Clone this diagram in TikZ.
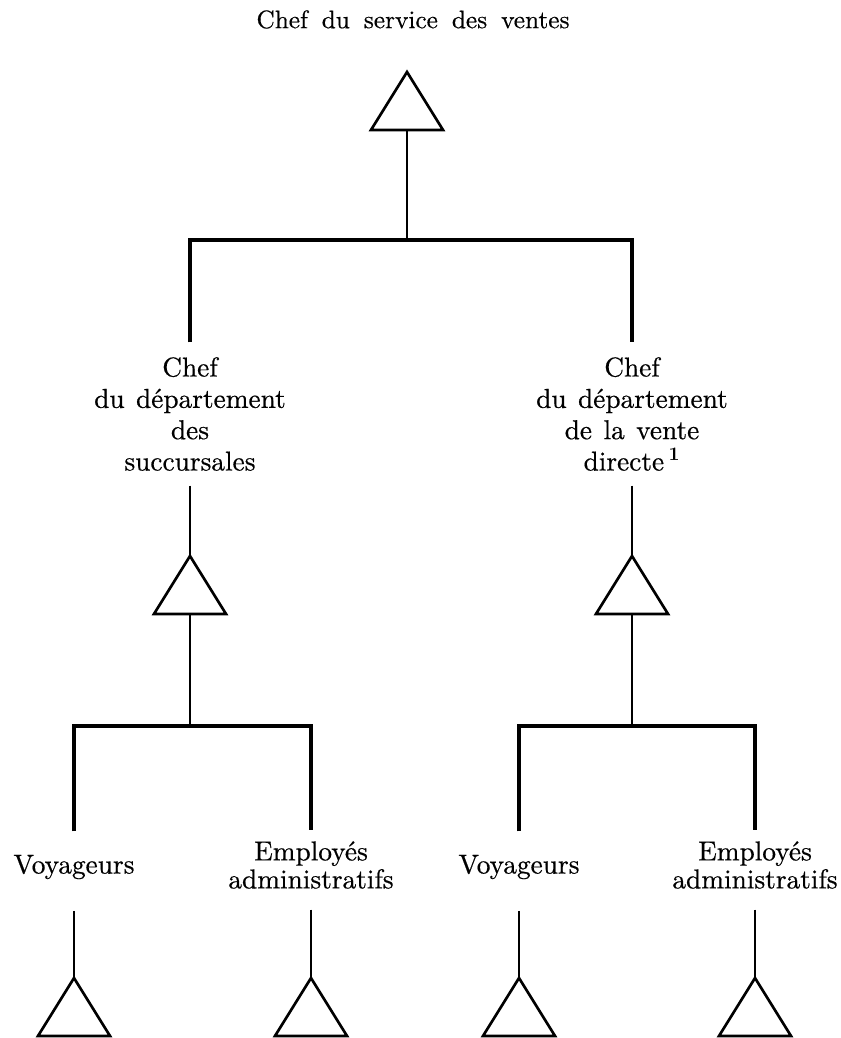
\documentclass[tikz,border=0pt]{standalone}
\usepackage{fontspec}
\setmainfont{lmroman10-regular.otf}[FakeBold=0.5, BoldFont=lmroman10-bold.otf, BoldFeatures={FakeBold=0}]
\usetikzlibrary{shapes.geometric}
\newcommand\widewords[1]{\spaceskip=#1em plus 0.1em\relax}
\begin{document}
\begin{tikzpicture}[x=0.75pt,y=-0.75pt,
  txt/.style={font=\fontsize{20.5}{23.5}\selectfont\widewords{0.42}, inner xsep=2pt},
  titlestyle/.style={font=\fontsize{19}{22}\selectfont\widewords{0.55}, inner sep=0pt},
  dept/.style={txt, align=center, inner ysep=11pt},
  voy/.style={txt, inner ysep=17.5pt},
  emp/.style={txt, align=center, inner ysep=8.5pt, font=\fontsize{20.5}{21}\selectfont\widewords{0.42}},
  tri/.style={draw, line width=2pt, line join=miter, isosceles triangle, shape border rotate=90,
    isosceles triangle apex angle=63.7, minimum size=43.5pt, inner sep=0pt, outer sep=0pt, anchor=apex},
  wire/.style={line width=2pt},
  bar/.style={line width=2.3pt, line join=miter}]
\path[use as bounding box] (0,0) rectangle (841,1038);

% title and top triangle
\node[titlestyle] (title) at (413,19.5) {Chef du service des ventes};
\node[tri] (t0) at (407,72) {};

% department heads
\node[dept] (dL) at (190,414) {Chef\\du département\\des\\succursales};
\node[dept] (dR) at (632,414) {Chef\\du département\\de la vente\\directe\,\textsuperscript{\textbf{1}}};

\coordinate (j0) at (407,240);
\draw[wire] (t0.lower side) -- (j0);
\draw[bar] (dL.north) |- (j0) -| (dR.north);

% department triangles
\node[tri] (t1) at (190,556) {};
\node[tri] (t2) at (632,556) {};
\draw[wire] (dL.south) -- (t1.apex);
\draw[wire] (dR.south) -- (t2.apex);

% staff
\node[voy] (v1) at (74,867) {Voyageurs};
\node[emp] (e1) at (311,865) {Employés\\administratifs};
\node[voy] (v2) at (519,867) {Voyageurs};
\node[emp] (e2) at (755,865) {Employés\\administratifs};

\coordinate (j1) at (190,726);
\coordinate (j2) at (632,726);
\draw[wire] (t1.lower side) -- (j1);
\draw[wire] (t2.lower side) -- (j2);
\draw[bar] (v1.north) |- (j1) -| (e1.north);
\draw[bar] (v2.north) |- (j2) -| (e2.north);

% staff triangles
\node[tri] (t3) at (74,978) {};
\node[tri] (t4) at (311,978) {};
\node[tri] (t5) at (519,978) {};
\node[tri] (t6) at (755,978) {};
\draw[wire, shorten <=6pt] (v1.south) -- (t3.apex);
\draw[wire, shorten <=7pt] (e1.south) -- (t4.apex);
\draw[wire, shorten <=6pt] (v2.south) -- (t5.apex);
\draw[wire, shorten <=7pt] (e2.south) -- (t6.apex);
\end{tikzpicture}
\end{document}
